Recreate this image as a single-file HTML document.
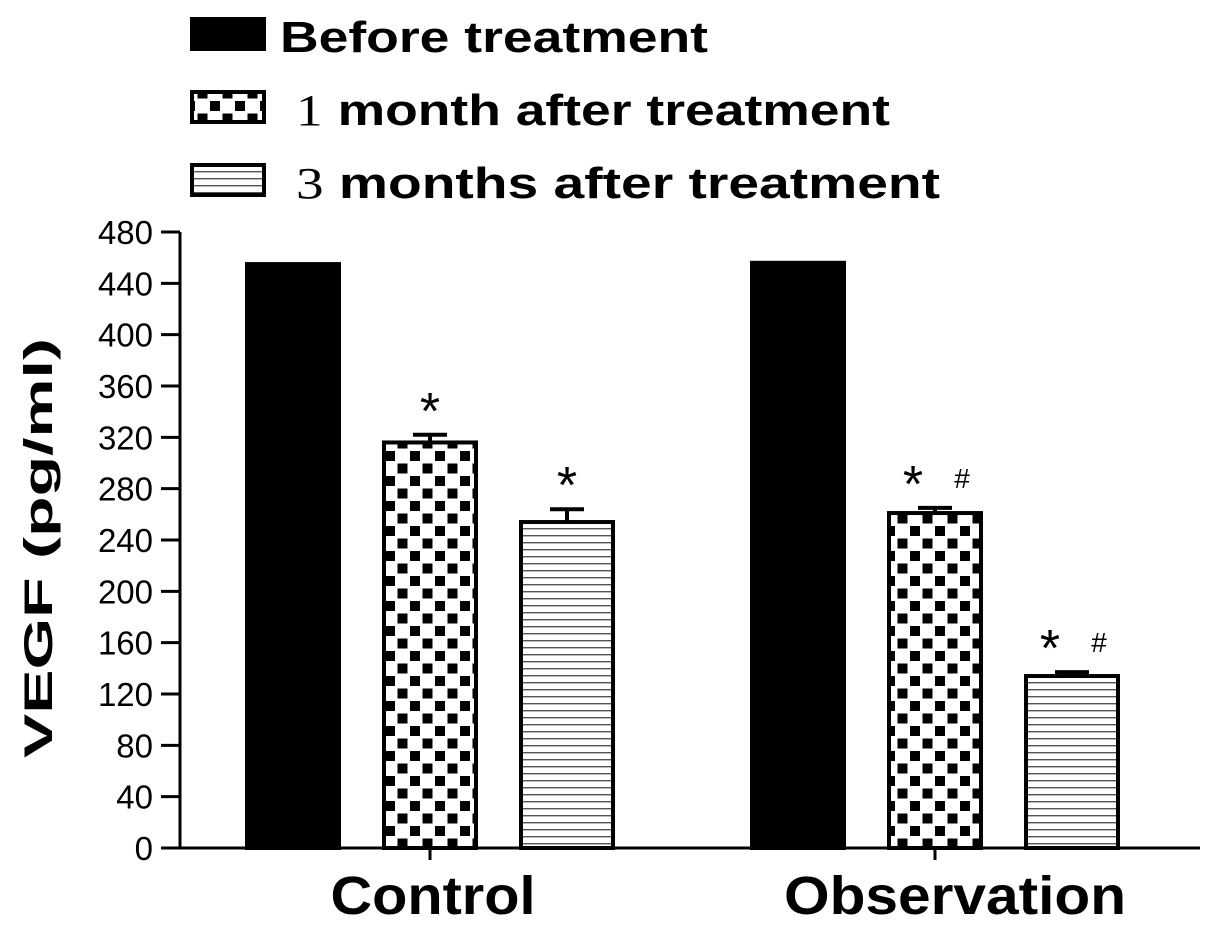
<!DOCTYPE html>
<html><head><meta charset="utf-8"><style>
body{margin:0;background:#fff}
svg text{font-family:"Liberation Sans",sans-serif}
</style></head><body>
<svg id="chart" width="1205" height="927" viewBox="0 0 1205 927" xmlns="http://www.w3.org/2000/svg">
<defs>
<pattern id="checker" patternUnits="userSpaceOnUse" width="25" height="25" x="384" y="0">
<rect width="25" height="25" fill="#fff"/>
<rect x="1" y="1" width="10" height="10" fill="#000"/>
<rect x="13.5" y="13.5" width="10" height="10" fill="#000"/>
</pattern>
<pattern id="hlines" patternUnits="userSpaceOnUse" width="10" height="7">
<rect width="10" height="7" fill="#fff"/>
<rect y="3" width="10" height="1.4" fill="#555"/>
</pattern>
</defs>
<g id="legend"></g>
<g id="axes"></g>
<g id="bars"></g>
</svg>
<script>
const categories = ["Control", "Observation"];
const seriesNames = ["Before treatment", "1 month after treatment", "3 months  after treatment"];
const beforeValues = [455, 456];
const month1Values = [316, 261];
const month3Values = [254, 134];
const month1Errors = [6, 4];
const month3Errors = [10, 3];
const month1Marks = ["*", "* #"];
const month3Marks = ["*", "* #"];
const yTicks = [0,40,80,120,160,200,240,280,320,360,400,440,480];

const NS="http://www.w3.org/2000/svg";
const svg=document.getElementById('chart');
const y0=848, y480=232, axisX=180;
const yScale=v=>y0-(v/480)*(y0-y480);
const groupCenter=[430,935];
const barW=92, offsets=[-137,0,137];
const fills=["#000","url(#checker)","url(#hlines)"];
function mk(tag,attrs,parent,text){const e=document.createElementNS(NS,tag);for(const k in attrs)e.setAttribute(k,attrs[k]);if(text!==undefined)e.textContent=text;(parent||svg).appendChild(e);return e;}

const axes=document.getElementById('axes');
const ya=mk('line',{x1:axisX,y1:y480,x2:axisX,y2:y0,stroke:'#000','stroke-width':3},axes);


const xa=mk('line',{x1:axisX,y1:y0,x2:1200,y2:y0,stroke:'#000','stroke-width':3},axes);


yTicks.forEach(t=>{
  const yy=yScale(t);
  const tk=mk('line',{x1:161,y1:yy,x2:axisX,y2:yy,stroke:'#000','stroke-width':3},axes);
  
  
  const lb=mk('text',{x:153,y:yy+12,'text-anchor':'end','font-size':33},axes,String(t));
  
  
});
const yt=mk('text',{x:0,y:0,transform:'translate(52,548) rotate(-90)','text-anchor':'middle','font-size':40,'font-weight':'bold',textLength:420,lengthAdjust:'spacingAndGlyphs'},axes,'VEGF (pg/ml)');


const catLen=[205,342];
categories.forEach((c,i)=>{
  const tk=mk('line',{x1:groupCenter[i],y1:y0,x2:groupCenter[i],y2:860,stroke:'#000','stroke-width':3},axes);
  
  
  const lb=mk('text',{x:groupCenter[i]+(i?20:3),y:914,'text-anchor':'middle','font-size':54,'font-weight':'bold',textLength:catLen[i],lengthAdjust:'spacingAndGlyphs'},axes,c);
  
  
});

const bars=document.getElementById('bars');
const series=[beforeValues,month1Values,month3Values];
const errs=[null,month1Errors,month3Errors];
const marks=[null,month1Marks,month3Marks];
series.forEach((vals,s)=>{
  vals.forEach((v,i)=>{
    const cx=groupCenter[i]+offsets[s];
    const top=yScale(v);
    if(errs[s]){
      const et=yScale(v+errs[s][i]);
      const el=mk('path',{d:`M${cx} ${top}V${et}M${cx-17} ${et}H${cx+17}`,stroke:'#000','stroke-width':4,fill:'none'},bars);
      
      
    }
    const r=mk('rect',{x:cx-barW/2,y:top,width:barW,height:y0-top,fill:fills[s],stroke:'#000','stroke-width':4},bars);
    
    
    if(marks[s]){
      const m=marks[s][i];
      const ty=yScale(v+(errs[s]?errs[s][i]:0))-32;
      const st=mk('text',{x:cx-(m.length>1?22:0),y:ty+26,'text-anchor':'middle','font-size':52},bars,'*');
      
      
      if(m.length>1){
        const h=mk('text',{x:cx+27,y:ty+12,'text-anchor':'middle','font-size':28,'font-family':'Liberation Serif'},bars,'#');
        
        
      }
    }
  });
});

const legend=document.getElementById('legend');
const lys=[17,90,163];
const legLen=[428,594,644];
seriesNames.forEach((n,i)=>{
  const sw=mk('rect',{x:192,y:lys[i]+2,width:72,height:30,fill:fills[i],stroke:'#000','stroke-width':4},legend);
  
  
  const tx=mk('text',{x:i?296:280,y:lys[i]+35,'font-size':44,'font-weight':'bold',textLength:legLen[i],lengthAdjust:'spacingAndGlyphs'},legend);
  
  
  if(i){
    mk('tspan',{'font-family':'Liberation Serif','font-weight':'normal'},tx,n[0]);
    mk('tspan',{},tx,n.slice(1));
  } else tx.textContent=n;
});
</script>
</body></html>
